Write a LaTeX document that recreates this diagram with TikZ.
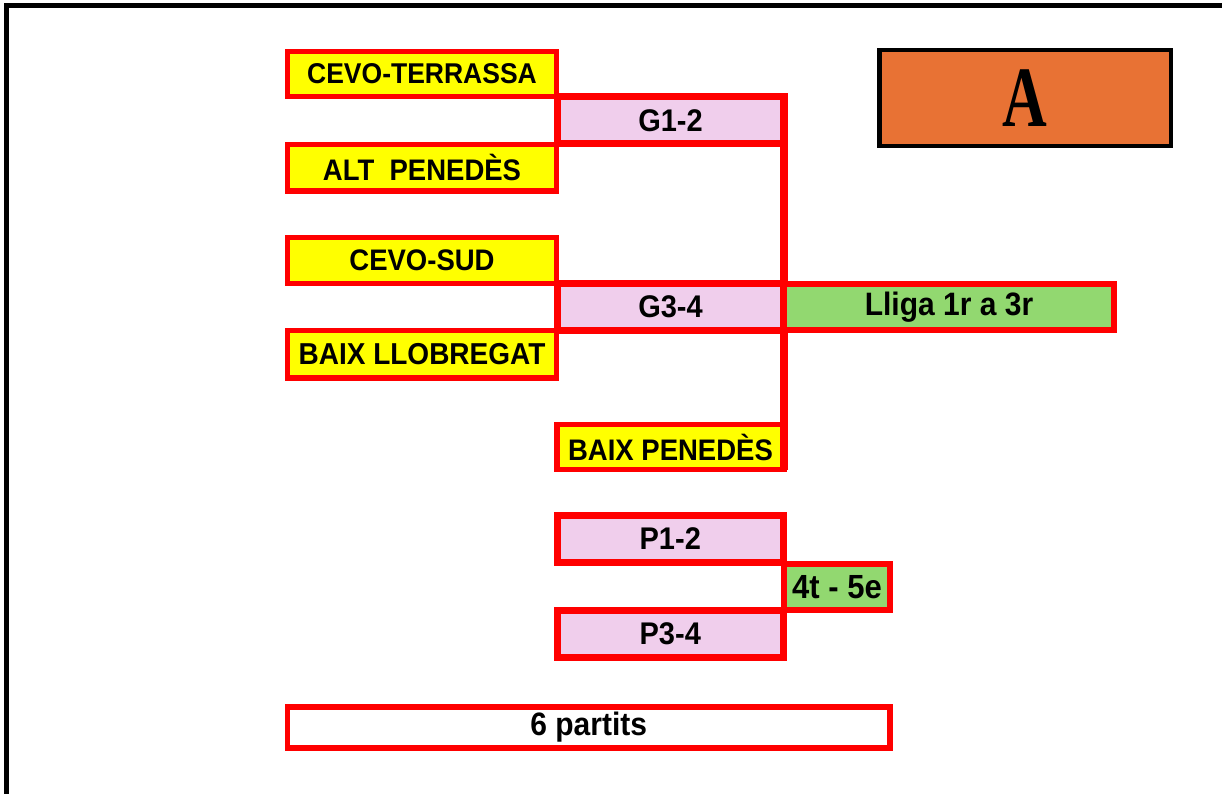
\documentclass[tikz,border=0pt]{standalone}
\usepackage{fontspec}
\setmainfont{Liberation Sans}
\newfontfamily\serifA{Liberation Serif}
\definecolor{boxred}{RGB}{255,0,0}
\definecolor{boxyellow}{RGB}{255,255,0}
\definecolor{boxpink}{RGB}{240,206,236}
\definecolor{boxgreen}{RGB}{146,216,112}
\definecolor{boxorange}{RGB}{232,114,52}
\newcommand\lbl[2]{\scalebox{1}[1.08]{\fontsize{#1}{#1}\selectfont\bfseries #2}}
\tikzset{
  basebox/.style={draw=boxred, inner sep=0pt, outer sep=0pt, align=center},
  teambox/.style={basebox, fill=boxyellow, line width=5.5pt},
  matchbox/.style={basebox, fill=boxpink, line width=7pt},
  resultbox/.style={basebox, fill=boxgreen, line width=6pt},
  countbox/.style={basebox, fill=white, line width=5.5pt},
  groupbox/.style={draw=black, fill=boxorange, line width=4.5pt, inner sep=0pt},
  bracket/.style={draw=boxred, line width=7.5pt}
}
\begin{document}
\begin{tikzpicture}[x=1pt,y=-1pt]
\useasboundingbox (0,0) rectangle (1222,794);
\fill[white] (0,0) rectangle (1222,794);
% frame
\draw[line width=5pt] (6.5,820) -- (6.5,5.5) -- (1240,5.5);

% teams
\node[teambox, minimum width=269pt, minimum height=45pt] (ct) at (422,74) {\lbl{26.5}{CEVO-TERRASSA}};
\node[teambox, minimum width=269pt, minimum height=46.5pt] (alt) at (422,167.75) {\lbl{27.5}{ALT\ \ PENEDÈS}};
\node[teambox, minimum width=269pt, minimum height=46pt] (sud) at (422,260.5) {\lbl{27.5}{CEVO-SUD}};
\node[teambox, minimum width=269pt, minimum height=47.5pt] (bll) at (422,354.25) {\lbl{28}{BAIX LLOBREGAT}};

% matches
\node[matchbox, minimum width=227pt, minimum height=47pt] (g12) at (670.5,120.5) {\lbl{29}{G1-2}};
\node[matchbox, minimum width=227pt, minimum height=46.5pt] (g34) at (670.5,306.75) {\lbl{29}{G3-4}};
\node[teambox, minimum width=227pt, minimum height=45pt] (bpen) at (670.5,447) {\lbl{27.5}{BAIX PENEDÈS}};

% bracket connector
\draw[bracket] (g12.north east) -- (bpen.south east);

\node[resultbox, minimum width=330pt, minimum height=46.5pt] (lliga) at (949,306.75) {\lbl{30}{Lliga 1r a 3r}};

% positions 4-5
\node[matchbox, minimum width=226.5pt, minimum height=47pt] (p12) at (670.25,539) {\lbl{29}{P1-2}};
\node[matchbox, minimum width=226.5pt, minimum height=47.5pt] (p34) at (670.25,633.75) {\lbl{29}{P3-4}};
\node[resultbox, minimum width=106pt, minimum height=46pt] (q45) at (837,587) {\lbl{31}{4t - 5e}};

% count
\node[countbox, minimum width=602.5pt, minimum height=41pt] (six) at (588.75,727.5) {\lbl{30}{6 partits}};

% group label
\node[groupbox, minimum width=291.5pt, minimum height=96pt] (grp) at (1025.25,98) {};
\node (grpA) at (grp.center) {\scalebox{0.72}[1]{\serifA\bfseries\fontsize{86}{90}\selectfont A}};
\end{tikzpicture}
\end{document}
